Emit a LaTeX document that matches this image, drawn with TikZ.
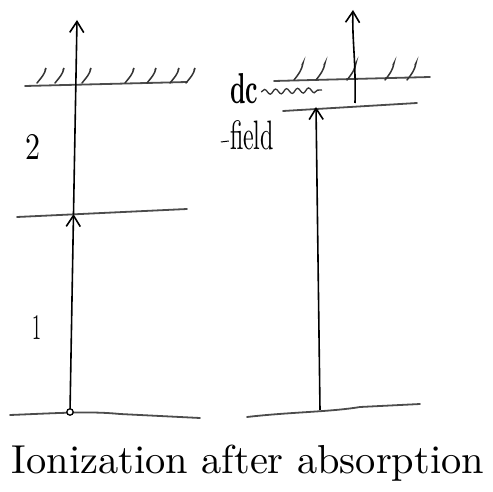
\documentclass[tikz,border=0pt]{standalone}
\usetikzlibrary{arrows.meta,decorations.pathmorphing}
\begin{document}
\begin{tikzpicture}[x=1pt,y=-1pt,
  level/.style={line width=1.8pt,draw=black!70,line cap=round},
  ray/.style={line width=1.6pt,draw=black},
  tip/.style={-{Straight Barb[length=11pt,width=14pt,line width=1.6pt]}},
  hatch/.style={line width=1.5pt,draw=black!80,line cap=round},
  hand/.style={inner sep=0pt}]
\useasboundingbox (0,0) rectangle (493,492);
% ---- left diagram ----
\coordinate (g1l) at (10,415);
\coordinate (g1r) at (200,418);
\coordinate (m1l) at (17,217);
\coordinate (m1r) at (187,209);
\coordinate (t1l) at (25,86);
\coordinate (t1r) at (187,82);
\coordinate (s1) at (70,412);
\coordinate (c1) at (73.5,214);
\coordinate (e1) at (77,20);
\draw[level] (g1l) .. controls (60,413) and (90,411) .. (120,414) -- (g1r);
\draw[level] (m1l) -- (m1r);
\draw[level] (t1l) -- (t1r);
\foreach \x in {37,55,82,125,147,170,186}
  \draw[hatch] (\x,83) .. controls (\x+4,78) and (\x+8,74) .. (\x+9,68) -- ++(-1,2);
\draw[ray,tip] (s1) -- (c1);
\draw[ray,tip] (c1) -- (e1);
\draw[line width=1.3pt,fill=white] (s1) circle (3.2);
\node[hand] (lab2) at (33,147) {\resizebox{15pt}{25pt}{2}};
\node[hand] (lab1) at (37,327) {\resizebox{9pt}{24pt}{1}};
% ---- right diagram ----
\coordinate (g2l) at (247,417);
\coordinate (g2r) at (420,404);
\coordinate (lol) at (283,111);
\coordinate (lor) at (417,103);
\coordinate (upl) at (274,81);
\coordinate (upr) at (430,77);
\coordinate (s2) at (320,410);
\coordinate (e2) at (316,107);
\coordinate (s3) at (355,103);
\coordinate (e3) at (353,10);
\draw[level] (g2l) .. controls (290,412) and (330,412) .. (360,407) -- (g2r);
\draw[level] (lol) -- (lor);
\draw[level] (upl) -- (upr);
\foreach \x in {294,316,347,385,407}
  \draw[hatch] (\x,80) .. controls (\x+4,75) and (\x+8,70) .. (\x+9,63) -- ++(-1,2);
\draw[ray,tip] (s2) -- (e2);
\draw[ray,tip] (s3) .. controls (356,60) and (352,40) .. (e3);
\node[hand] (dc) at (244,89) {\resizebox{28pt}{30pt}{\bfseries dc}};
\coordinate (sq) at (322,90);
\draw[line width=1.3pt,draw=black!80,decorate,decoration={snake,amplitude=2.5pt,segment length=11pt}] (dc.east) ++(3,3) -- (sq);
\node[hand] (field) at (252,135) {\resizebox{44pt}{29pt}{field}};
\draw[line width=1pt] (field.west) ++(-1,6) -- ++(-8,1);
% ---- caption ----
\node[inner sep=0pt] (cap) at (248,463) {\resizebox{472pt}{!}{Ionization after absorption}};
\end{tikzpicture}
\end{document}
